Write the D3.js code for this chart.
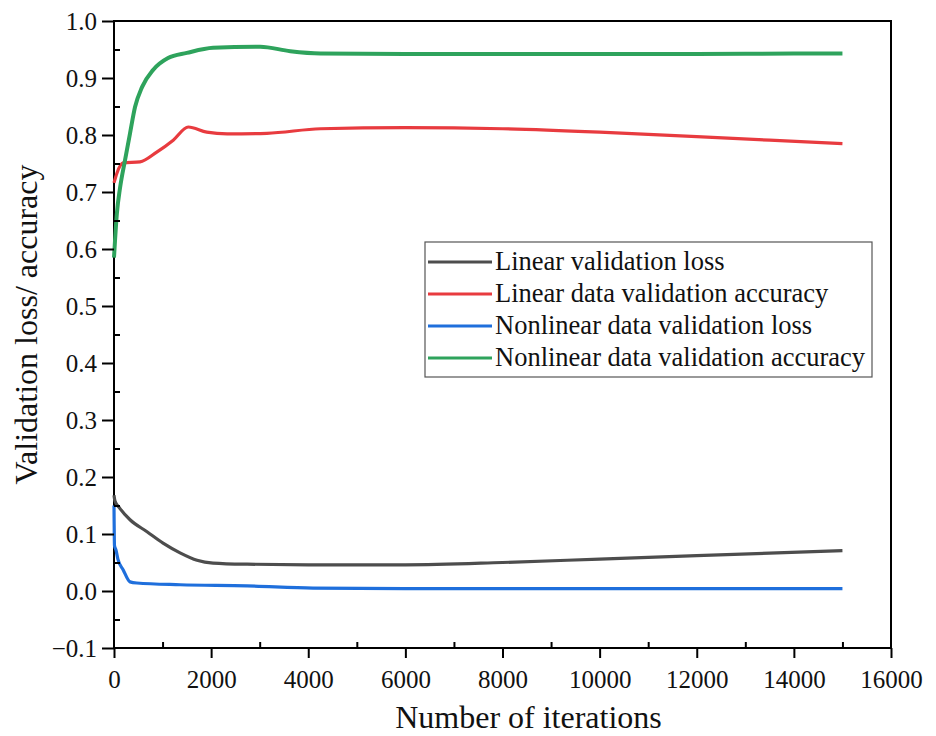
<!DOCTYPE html>
<html>
<head>
<meta charset="utf-8">
<script src="https://cdn.jsdelivr.net/npm/d3@7"></script>
<style>
  body { margin: 0; background: #fff; }
</style>
</head>
<body>
<div id="chart"></div>
<script>
// data: [iteration, value]
var linearLoss = [[0,0.168],[20,0.158],[120,0.145],[330,0.125],[680,0.104],[1010,0.084],[1360,0.067],[1710,0.054],[2040,0.049],[2740,0.047],[4000,0.046],[6000,0.046],[8000,0.050],[10000,0.056],[12000,0.062],[15000,0.071]];
var linearAcc = [[0,0.716],[60,0.733],[186,0.751],[536,0.753],[880,0.770],[1220,0.791],[1530,0.814],[1910,0.805],[2330,0.802],[3150,0.803],[4250,0.811],[6000,0.813],[8000,0.811],[10000,0.805],[12000,0.797],[15000,0.785]];
var nonlinLoss = [[0,0.150],[10,0.080],[40,0.072],[80,0.056],[190,0.037],[330,0.016],[470,0.014],[1360,0.011],[2740,0.009],[4100,0.005],[6000,0.004],[10000,0.004],[15000,0.004]];
var nonlinAcc = [[0,0.585],[60,0.663],[124,0.707],[227,0.756],[330,0.803],[433,0.849],[577,0.884],[804,0.914],[1113,0.935],[1500,0.944],[2040,0.953],[3010,0.955],[3630,0.947],[4250,0.943],[6000,0.942],[8000,0.942],[10000,0.942],[12000,0.942],[14000,0.943],[15000,0.943]];

var seriesNames = ["Linear validation loss", "Linear data validation accuracy", "Nonlinear data validation loss", "Nonlinear data validation accuracy"];
var seriesColors = ["#4d4d4d", "#e83b3f", "#1f6fdc", "#2ea35c"];
var seriesData = [linearLoss, linearAcc, nonlinLoss, nonlinAcc];

var xTicks = [0, 2000, 4000, 6000, 8000, 10000, 12000, 14000, 16000];
var yTicks = [-0.1, 0.0, 0.1, 0.2, 0.3, 0.4, 0.5, 0.6, 0.7, 0.8, 0.9, 1.0];

var font = "'Liberation Serif', 'Times New Roman', serif";

// set the dimensions and margins of the graph
var margin = {top: 21, left: 114},
    width = 891 - margin.left,
    height = 648 - margin.top;

var svg = d3.select("#chart")
  .append("svg")
    .attr("width", 936)
    .attr("height", 736)
    .attr("font-family", font)
  .append("g")
    .attr("transform", "translate(" + margin.left + "," + margin.top + ")");

var x = d3.scaleLinear().domain([0, 16000]).range([0, width]);
var y = d3.scaleLinear().domain([-0.1, 1.0]).range([height, 0]);

// frame
svg.append("rect")
  .attr("width", width).attr("height", height)
  .attr("fill", "none").attr("stroke", "#000").attr("stroke-width", 2);

// lines
var line = d3.line()
  .x(function(d) { return x(d[0]) })
  .y(function(d) { return y(d[1]) })
  .curve(d3.curveMonotoneX);

seriesData.forEach(function(s, i) {
  svg.append("path")
    .datum(s)
    .attr("fill", "none")
    .attr("stroke", seriesColors[i])
    .attr("stroke-width", i == 3 ? 4 : 3.2)
    .attr("stroke-linejoin", "round")
    .attr("d", line);
});

// X axis, major ticks outward
var xAxis = svg.append("g")
  .attr("transform", "translate(0," + height + ")")
  .call(d3.axisBottom(x).tickValues(xTicks).tickSize(10).tickPadding(12).tickFormat(d3.format("d")));
// minor ticks inward
svg.append("g")
  .attr("transform", "translate(0," + height + ")")
  .call(d3.axisBottom(x).tickValues(d3.range(1000, 16000, 2000)).tickSize(-6).tickFormat(""));

var yAxis = svg.append("g")
  .call(d3.axisLeft(y).tickValues(yTicks).tickSize(12).tickPadding(5).tickFormat(d3.format(".1f")));
svg.append("g")
  .call(d3.axisLeft(y).tickValues(d3.range(-0.05, 1.0, 0.1)).tickSize(-6).tickFormat(""));

svg.selectAll(".domain").remove();
svg.selectAll(".tick line").attr("stroke", "#000").attr("stroke-width", 2);
svg.selectAll("g").attr("font-family", font);
xAxis.selectAll("text").attr("font-size", 25).attr("fill", "#111");
yAxis.selectAll("text").attr("font-size", 25).attr("fill", "#111");

// axis titles
svg.append("text")
  .attr("x", width / 2 + 26)
  .attr("y", height + 80)
  .attr("text-anchor", "middle")
  .attr("font-size", 32)
  .attr("fill", "#111")
  .text("Number of iterations");

svg.append("text")
  .attr("transform", "translate(" + (-77) + "," + (height / 2 - 10) + ") rotate(-90)")
  .attr("text-anchor", "middle")
  .attr("font-size", 32)
  .attr("fill", "#111")
  .text("Validation loss/ accuracy");

// legend
var legend = svg.append("g")
  .attr("transform", "translate(" + (425 - margin.left) + "," + (242 - margin.top) + ")");
legend.append("rect")
  .attr("width", 447).attr("height", 135)
  .attr("fill", "#fff").attr("stroke", "#555").attr("stroke-width", 1.2);
seriesNames.forEach(function(name, i) {
  var ly = 20 + i * 32;
  legend.append("line")
    .attr("x1", 3).attr("x2", 67)
    .attr("y1", ly).attr("y2", ly)
    .attr("stroke", seriesColors[i]).attr("stroke-width", 3.2);
  legend.append("text")
    .attr("x", 70).attr("y", ly + 8)
    .attr("font-size", 26.5)
    .attr("fill", "#111")
    .text(name);
});
</script>
</body>
</html>
